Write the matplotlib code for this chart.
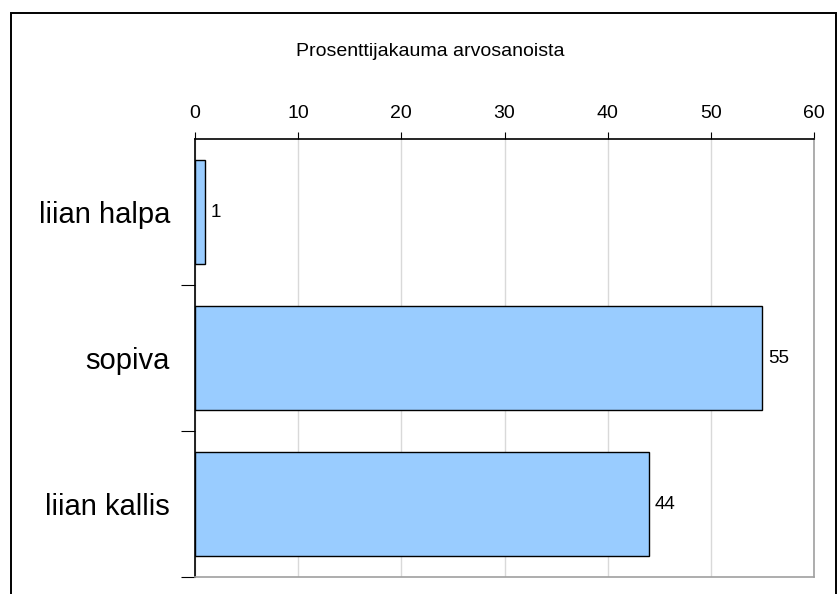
import matplotlib

matplotlib.use("Agg")
import matplotlib.pyplot as plt
from matplotlib.patches import Rectangle

plt.rcParams["font.family"] = ["Liberation Sans", "DejaVu Sans"]

categories = ["liian halpa", "sopiva", "liian kallis"]
shares = [1, 55, 44]
x_ticks = [0, 10, 20, 30, 40, 50, 60]

W, H, DPI = 838, 594, 100
fig = plt.figure(figsize=(W / DPI, H / DPI), dpi=DPI)

# outer frame, runs off the bottom edge
frame_top = 1 - 13 / H
fig.patches.append(
    Rectangle((11 / W, -0.2), (836 - 11) / W, frame_top + 0.2, transform=fig.transFigure,
              fill=False, edgecolor="black", linewidth=1.4, clip_on=False)
)

left, right, top, bottom = 195, 814, 139, 577
ax = fig.add_axes([left / W, 1 - bottom / H, (right - left) / W, (bottom - top) / H])

pos = list(range(len(categories)))
bars = ax.barh(pos, shares, height=0.71, color="#99ccff", edgecolor="black",
               linewidth=1.0, zorder=3)
ax.set_ylim(len(categories) - 0.5, -0.5)
ax.set_xlim(0, 60)

for rect, v in zip(bars, shares):
    ax.text(v + 0.55, rect.get_y() + rect.get_height() / 2, f"{v}",
            ha="left", va="center", fontsize=13.5, color="black")

ax.xaxis.tick_top()
ax.set_xticks(x_ticks)
ax.set_xticklabels([str(t) for t in x_ticks], fontsize=14)
ax.tick_params(axis="x", direction="out", length=5, pad=7.5, color="black")
ax.grid(axis="x", color="#d9d9d9", linewidth=1.0, zorder=0)

# category ticks sit on the band boundaries, labels in the band centres
ax.set_yticks([p + 0.5 for p in pos[:-1]] + [len(categories) - 0.5], minor=False)
ax.set_yticklabels([])
ax.tick_params(axis="y", direction="out", length=10, color="black")
ax.set_yticks(pos, minor=True)
ax.set_yticklabels(categories, minor=True, fontsize=21)
ax.tick_params(axis="y", which="minor", length=0, pad=18)

for side in ("top", "left"):
    ax.spines[side].set_color("black")
    ax.spines[side].set_linewidth(1.2)
for side in ("right", "bottom"):
    ax.spines[side].set_color("#a0a0a0")
    ax.spines[side].set_linewidth(1.2)

fig.text(430 / W, 1 - 51 / H, "Prosenttijakauma arvosanoista",
         ha="center", va="center", fontsize=14)

fig.savefig("out.png", dpi=DPI)
